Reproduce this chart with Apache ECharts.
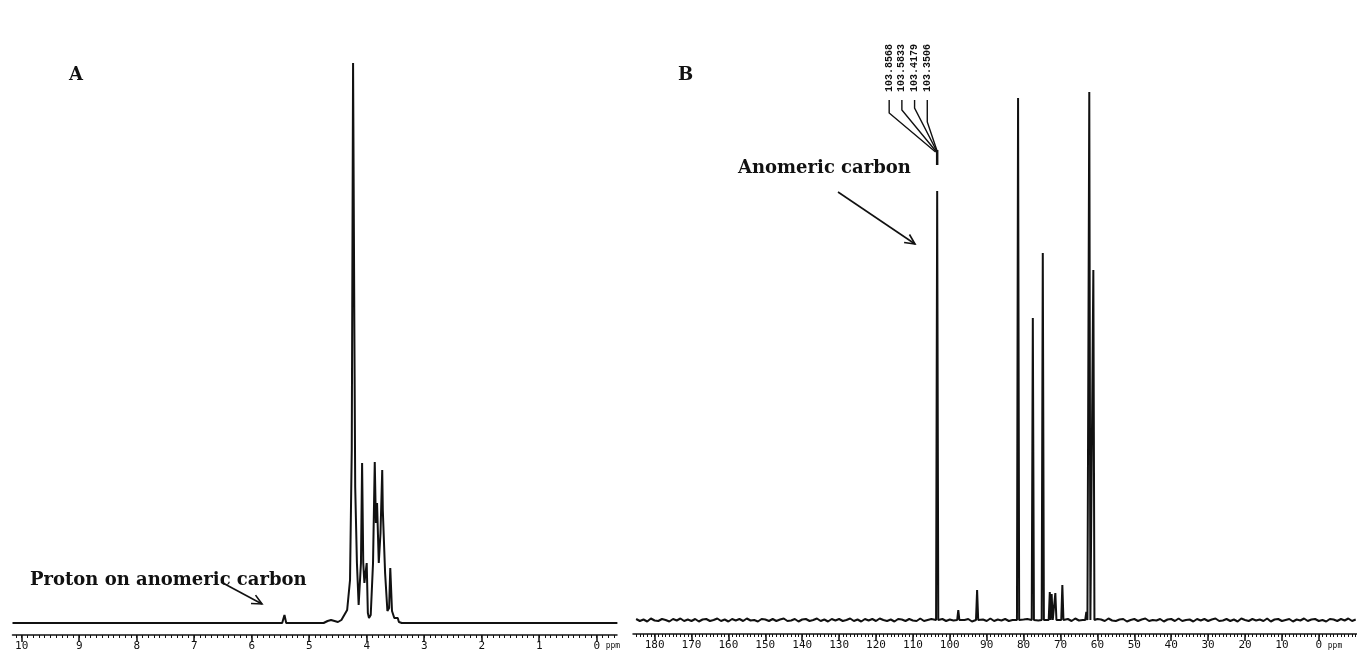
<!DOCTYPE html>
<html><head><meta charset="utf-8">
<script src="https://cdn.jsdelivr.net/npm/echarts@6/dist/echarts.min.js"></script>
<style>html,body{margin:0;padding:0;background:#fff}#c{width:1357px;height:659px}</style>
</head><body><div id="c"></div>
<script>
// ---------- DATA ----------
// Panel A: 1H NMR trace, [ppm, intensity]
const A_SPECTRUM = [
  [10.16,0],[5.47,0],[5.43,8],[5.40,0],[4.75,0],[4.68,2],[4.62,3],[4.56,2],[4.50,1],[4.44,3],
  [4.41,5],[4.34,13],[4.29,43],[4.26,173],[4.237,560],[4.215,300],[4.20,136],[4.17,60],[4.14,18],
  [4.10,60],[4.08,160],[4.06,60],[4.04,40],[4.00,60],[3.98,10],[3.96,5],[3.93,8],[3.89,60],
  [3.86,161],[3.84,100],[3.82,120],[3.79,60],[3.76,90],[3.73,153],[3.72,113],[3.70,113],[3.68,50],
  [3.64,12],[3.61,15],[3.59,55],[3.56,12],[3.52,5],[3.49,3],[3.46,5],[3.44,1],[3.39,0],[-0.36,0]
];
// Panel B: 13C NMR peaks [ppm, intensity]
const B_PEAKS = [
  [103.42,429],[97.7,10],[92.6,30],[81.5,522],[77.5,302],[74.8,367],[72.9,28],[72.4,26],
  [71.4,27],[69.5,35],[63.0,8],[62.2,528],[61.1,350]
];
// Panel B baseline noise readings, every 1 ppm starting at 185 ppm
const B_NOISE_START = 185, B_NOISE_STEP = 1;
const B_NOISE = [
  1,-1,0.5,-1.5,1.5,-0.5,-1,1,0,-1.5,1,-0.5,1.5,-1,0.5,-1,1,-1.5,0.5,1,
  -1,0,1.5,-1,0.5,-1.5,1,-0.5,1,-1,1.5,-0.5,0,-1.5,1,0.5,-1,1,-1,0.5,
  1.5,-1,-0.5,1,-1.5,0.5,1,-1,0,1.5,-1,0.5,-1.5,1,-0.5,1,-1,0,1.5,-1,
  0.5,-1.5,1,-0.5,1,-1,1.5,0,-1,0.5,-1.5,1,0.5,-1,1,-0.5,-1,1.5,-1,0,
  1,-1.5,0.5,1,-1,0.5,-0.5,1.5,-1,0,1,-1.5,1,-0.5,0.5,-1,1.5,-1,0.5,-0.5,
  1,-1,0,1.5,-1.5,0.5,1,-1,0.5,-0.5,1.5,-1,0,1,-1.5,0.5,-0.5,1,-1,1.5,
  -0.5,0,-1,1,-1.5,1,0.5,-1,1.5,-0.5,-1,0.5,1,-1.5,0,1,-1,0.5,1.5,-1,
  0,-0.5,1,-1.5,0.5,1,-1,1.5,-1,0,0.5,-1.5,1,-0.5,1,-1,0.5,1.5,-1,-0.5,
  1,-1,0.5,-1.5,1.5,0,-1,1,-0.5,0.5,-1,1.5,-1.5,0.5,1,-1,0,1,-1.5,0.5,
  -0.5,1.5,-1,0.5,1,-1,0,-1.5,1,0.5,-1,1,-0.5,1.5,-1,0.5];
const A_TICKS = [0,1,2,3,4,5,6,7,8,9,10];
const B_TICKS = [0,10,20,30,40,50,60,70,80,90,100,110,120,130,140,150,160,170,180];
const B_PEAK_LABELS = ['103.8568','103.5833','103.4179','103.3506'];
const TEXT_A = 'Proton on anomeric carbon';
const TEXT_B = 'Anomeric carbon';

// ---------- BUILD ----------
function minorTicks(from, to, step){
  const out=[]; const n=Math.round((from-to)/step);
  for(let i=0;i<=n;i++){ out.push(+(from - i*step).toFixed(3)); }
  return out;
}
const A_MINOR = minorTicks(10.1, -0.3, 0.1);
const B_MINOR = minorTicks(185, -10, 1);

function buildB(){
  const pts=[];
  B_NOISE.forEach((v,i)=>{
    const x = B_NOISE_START - i*B_NOISE_STEP;
    if(!B_PEAKS.some(p=>Math.abs(p[0]-x)<0.8)) pts.push([x,v]);
  });
  B_PEAKS.forEach(([d,h])=>{ pts.push([d+0.3,0],[d,h],[d-0.3,0]); });
  pts.sort((a,b)=>b[0]-a[0]);
  return pts;
}

const INK = '#111';
const tickFont = {fontFamily:'DejaVu Sans Mono', fontSize:11, color:INK};
function mainAxis(grid, min, max, ticks){
  return {gridIndex:grid, type:'value', min, max, inverse:true, position:'bottom',
    axisLine:{show:true, onZero:false, lineStyle:{color:INK, width:1.5}},
    axisTick:{show:true, customValues:ticks, length:7, lineStyle:{color:INK, width:1.5}},
    axisLabel:Object.assign({show:true, customValues:ticks, margin:6}, tickFont),
    splitLine:{show:false}};
}
function minorAxis(grid, min, max, ticks){
  return {gridIndex:grid, type:'value', min, max, inverse:true, position:'bottom',
    axisLine:{show:false, onZero:false},
    axisTick:{show:true, customValues:ticks, length:3, lineStyle:{color:INK, width:1}},
    axisLabel:{show:false}, splitLine:{show:false}};
}

const chart = echarts.init(document.getElementById('c'), null, {renderer:'canvas'});
chart.setOption({
  animation:false,
  backgroundColor:'#fff',
  grid:[
    {left:12.5, width:604.5, top:63, bottom:659-635},
    {left:633, width:724, top:92, bottom:659-634}
  ],
  xAxis:[
    mainAxis(0, -0.353, 10.16, A_TICKS),
    minorAxis(0, -0.353, 10.16, A_MINOR),
    mainAxis(1, -10.35, 185.85, B_TICKS),
    minorAxis(1, -10.35, 185.85, B_MINOR)
  ],
  yAxis:[
    {gridIndex:0, type:'value', min:-12, max:560, show:false},
    {gridIndex:1, type:'value', min:-14, max:528, show:false}
  ],
  series:[
    {type:'line', xAxisIndex:0, yAxisIndex:0, data:A_SPECTRUM, showSymbol:false, symbol:'none',
     lineStyle:{color:INK, width:2}},
    {type:'line', xAxisIndex:2, yAxisIndex:1, data:buildB(), showSymbol:false, symbol:'none',
     lineStyle:{color:INK, width:2}}
  ]
});

// ---------- ANNOTATIONS ----------
const pA = v => chart.convertToPixel({gridIndex:0}, [v,0]);
const pB = v => chart.convertToPixel({gridIndex:1}, [v,0]);
const serif = 'DejaVu Serif';
function txt(x,y,t,size,extra){
  return Object.assign({type:'text', x, y, silent:true,
    style:{text:t, font:'bold '+size+'px "'+serif+'"', fill:INK, align:'left', verticalAlign:'middle'}}, extra||{});
}
function arrow(x1,y1,x2,y2){
  const a=Math.atan2(y2-y1,x2-x1), L=11, w=0.45;
  return [
    {type:'line', silent:true, shape:{x1,y1,x2,y2}, style:{stroke:INK, lineWidth:1.6}},
    {type:'polyline', silent:true, shape:{points:[
      [x2-L*Math.cos(a-w), y2-L*Math.sin(a-w)], [x2,y2], [x2-L*Math.cos(a+w), y2-L*Math.sin(a+w)]]},
      style:{stroke:INK, lineWidth:1.6, fill:null}}
  ];
}
const g = [];
g.push(txt(69,75,'A',18));
g.push(txt(678,75,'B',18));
g.push(txt(30,580,TEXT_A,18));
g.push(txt(738,168,TEXT_B,18));
g.push(...arrow(221,582,262,604));
g.push(...arrow(838,192,915,244));
// ppm unit labels
g.push({type:'text', x:pA(0)[0]+9, y:646, silent:true, style:{text:'ppm', font:'8px "DejaVu Sans Mono"', fill:INK, align:'left', verticalAlign:'middle'}});
g.push({type:'text', x:pB(0)[0]+9, y:646, silent:true, style:{text:'ppm', font:'8px "DejaVu Sans Mono"', fill:INK, align:'left', verticalAlign:'middle'}});
// peak labels for anomeric carbon
const bends=[113,110,108,122];
const convX = pB(103.42)[0];
B_PEAK_LABELS.forEach((lab,i)=>{
  const lx = convX - 48 + i*12.7;
  g.push({type:'text', x:lx, y:92, rotation:Math.PI/2, silent:true,
    style:{text:lab, font:'bold 10px "Liberation Mono"', fill:INK, align:'left', verticalAlign:'middle'}});
  const px = pB(parseFloat(lab))[0];
  g.push({type:'polyline', silent:true, shape:{points:[[lx,100],[lx,bends[i]],[px,152]]},
    style:{stroke:INK, lineWidth:1.4, fill:null}});
});
g.push({type:'line', silent:true, shape:{x1:convX, y1:150, x2:convX, y2:165}, style:{stroke:INK, lineWidth:2.5}});
chart.setOption({graphic:g});
</script></body></html>
